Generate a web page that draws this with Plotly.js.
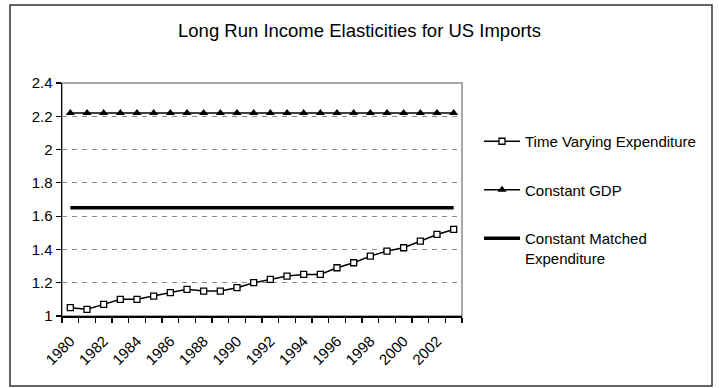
<!DOCTYPE html>
<html>
<head>
<meta charset="utf-8">
<script src="https://cdn.plot.ly/plotly-3.0.1.min.js"></script>
<style>
  html, body { margin: 0; padding: 0; background: #fff; }
  #chart { width: 719px; height: 388px; }
</style>
</head>
<body>
<div id="chart"></div>
<script>
// Years on the category axis
const years = [1980, 1981, 1982, 1983, 1984, 1985, 1986, 1987, 1988, 1989, 1990, 1991,
               1992, 1993, 1994, 1995, 1996, 1997, 1998, 1999, 2000, 2001, 2002, 2003];

// Long run income elasticity estimates
const timeVaryingExpenditure = [1.05, 1.04, 1.07, 1.10, 1.10, 1.12, 1.14, 1.16, 1.15, 1.15, 1.17, 1.20,
                                1.22, 1.24, 1.25, 1.25, 1.29, 1.32, 1.36, 1.39, 1.41, 1.45, 1.49, 1.52];
const constantGDP = [2.22, 2.22, 2.22, 2.22, 2.22, 2.22, 2.22, 2.22, 2.22, 2.22, 2.22, 2.22,
                     2.22, 2.22, 2.22, 2.22, 2.22, 2.22, 2.22, 2.22, 2.22, 2.22, 2.22, 2.22];
const constantMatchedExpenditure = [1.65, 1.65, 1.65, 1.65, 1.65, 1.65, 1.65, 1.65, 1.65, 1.65, 1.65, 1.65,
                                    1.65, 1.65, 1.65, 1.65, 1.65, 1.65, 1.65, 1.65, 1.65, 1.65, 1.65, 1.65];

const seriesNames = ['Time Varying Expenditure', 'Constant GDP', 'Constant Matched<br>Expenditure'];
const chartTitle = 'Long Run Income Elasticities for US Imports';

// Plot-area geometry (pixels)
const W = 719, H = 388;
const M = { l: 62, r: 257, t: 83, b: 72 };
const plotW = W - M.l - M.r, plotH = H - M.t - M.b;
const px2x = px => (px - M.l) / plotW;
const px2y = py => (H - M.b - py) / plotH;

const font = '"Liberation Sans", Arial, sans-serif';

const traces = [
  {
    x: years, y: timeVaryingExpenditure, name: seriesNames[0], legendgroup: 'a',
    type: 'scatter', mode: 'lines+markers',
    line: { color: '#000', width: 1.5 },
    marker: { symbol: 'square', size: 6, color: '#fff', line: { color: '#000', width: 1.3 } }
  },
  {
    x: years, y: constantGDP, name: seriesNames[1], legendgroup: 'b',
    type: 'scatter', mode: 'lines+markers',
    line: { color: '#000', width: 1.5 },
    marker: { symbol: 'triangle-up', size: 8, color: '#000' }
  },
  {
    x: years, y: constantMatchedExpenditure, name: seriesNames[2], legendgroup: 'c',
    type: 'scatter', mode: 'lines',
    line: { color: '#000', width: 3.5 }
  }
];

const layout = {
  width: W, height: H,
  margin: M,
  paper_bgcolor: '#fff', plot_bgcolor: '#fff',
  font: { family: font, size: 15, color: '#000' },
  title: {
    text: chartTitle,
    font: { family: font, size: 18.5, color: '#000' },
    x: 0.5, xref: 'container', xanchor: 'center',
    y: 1 - 31 / H, yref: 'container', yanchor: 'middle'
  },
  showlegend: true,
  legend: {
    x: px2x(479), xanchor: 'left',
    y: px2y(125), yanchor: 'top',
    traceorder: 'grouped', tracegroupgap: 26,
    valign: 'top', itemwidth: 36,
    bgcolor: 'rgba(0,0,0,0)',
    font: { family: font, size: 15, color: '#000' }
  },
  xaxis: {
    type: 'linear',
    range: [1979.5, 2003.5],
    tickmode: 'linear', tick0: 1980, dtick: 2,
    ticks: '', tickangle: -45, ticklabelstandoff: 9,
    tickfont: { family: font, size: 15, color: '#000' },
    showgrid: false, zeroline: false,
    showline: true, linecolor: '#000', linewidth: 1.5,
    minor: { tickmode: 'linear', tick0: 1979.5, dtick: 1, ticks: 'outside', ticklen: 5, tickcolor: '#000', tickwidth: 1.2, showgrid: false }
  },
  yaxis: {
    range: [1, 2.4],
    tickmode: 'linear', tick0: 1, dtick: 0.2,
    ticks: 'outside', ticklen: 5, tickcolor: '#000', tickwidth: 1.2,
    tickfont: { family: font, size: 15, color: '#000' },
    showgrid: true, gridcolor: '#8c8c8c', gridwidth: 1, griddash: '5px,5px',
    zeroline: false,
    showline: true, linecolor: '#000', linewidth: 1.5
  },
  shapes: [
    // plot area border (top and right edges show in grey)
    { type: 'rect', xref: 'paper', yref: 'paper', x0: 0, x1: 1, y0: 0, y1: 1,
      line: { color: '#8c8c8c', width: 1.5 }, layer: 'below' },
    // chart frame
    { type: 'rect', xref: 'paper', yref: 'paper',
      x0: px2x(10), x1: px2x(712), y0: px2y(386), y1: px2y(5),
      line: { color: '#333', width: 1.5 }, layer: 'below' }
  ]
};

Plotly.newPlot('chart', traces, layout, { displayModeBar: false, staticPlot: true });
</script>
</body>
</html>
